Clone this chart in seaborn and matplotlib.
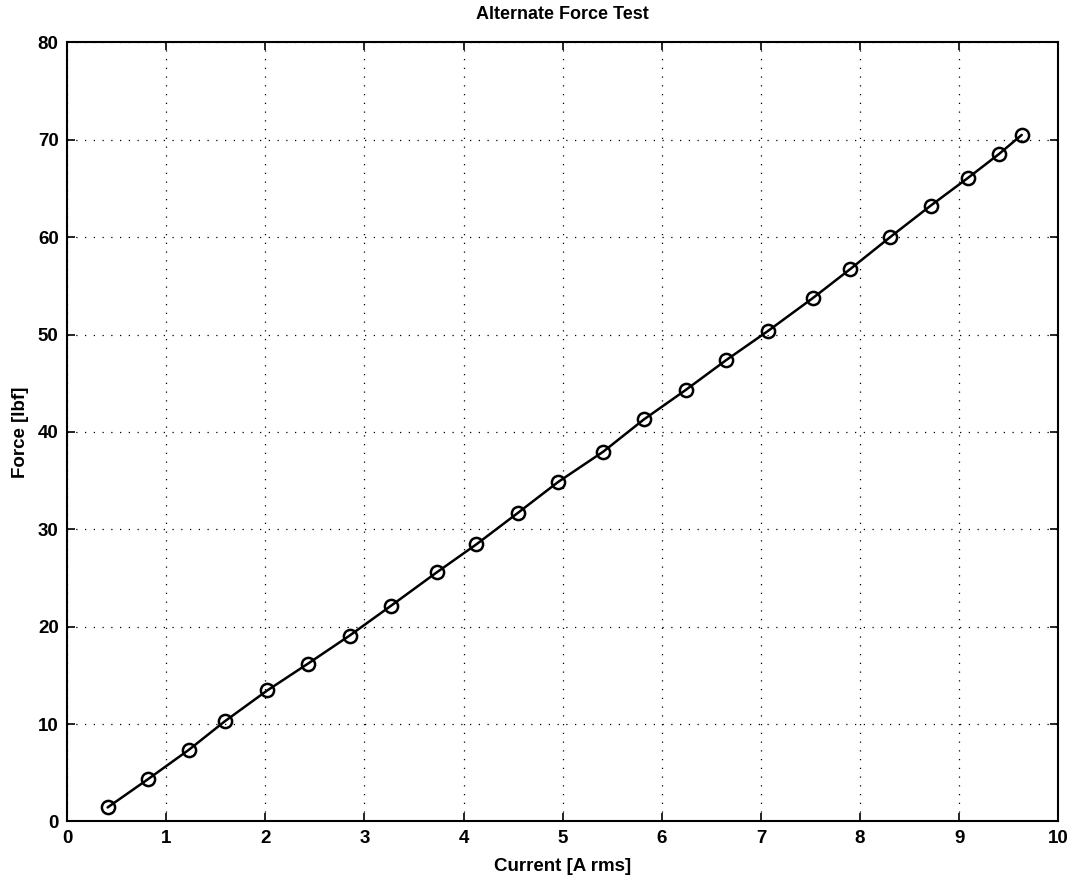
import matplotlib
matplotlib.use("Agg")
import matplotlib.pyplot as plt
import seaborn as sns
import pandas as pd

current = [0.41, 0.82, 1.23, 1.59, 2.02, 2.43, 2.85, 3.27, 3.73, 4.13, 4.55, 4.95,
           5.41, 5.82, 6.24, 6.65, 7.07, 7.52, 7.90, 8.30, 8.71, 9.09, 9.40, 9.63]
force = [1.44, 4.36, 7.36, 10.27, 13.45, 16.2, 19.08, 22.16, 25.58, 28.46, 31.7, 34.83,
         37.98, 41.29, 44.3, 47.38, 50.36, 53.72, 56.72, 59.98, 63.22, 66.1, 68.53, 70.5]
x_ticks = list(range(0, 11))
y_ticks = list(range(0, 81, 10))

sns.set_theme(style="white")
plt.rcParams['font.family'] = ['Liberation Sans', 'DejaVu Sans']
plt.rcParams['font.weight'] = 'bold'
plt.rcParams['text.color'] = 'black'
plt.rcParams['axes.labelcolor'] = 'black'
plt.rcParams['xtick.color'] = 'black'
plt.rcParams['ytick.color'] = 'black'

df = pd.DataFrame({"Current": current, "Force": force})

fig = plt.figure(figsize=(10.8, 8.83), dpi=100)
ax = fig.add_axes([0.062, 0.0697, 0.918, 0.8823])

sns.lineplot(data=df, x="Current", y="Force", ax=ax, color="black", linewidth=1.8,
             marker="o", markersize=9.5, markerfacecolor="none",
             markeredgecolor="black", markeredgewidth=1.8, sort=False)

ax.set_xlim(0, 10)
ax.set_ylim(0, 80)
ax.set_xticks(x_ticks)
ax.set_yticks(y_ticks)
ax.set_xticklabels([str(v) for v in x_ticks], fontsize=13.5, fontweight='bold')
ax.set_yticklabels([str(v) for v in y_ticks], fontsize=13.5, fontweight='bold')
ax.grid(True, linestyle=(0, (1, 6)), color='black', linewidth=0.9)
ax.tick_params(direction='in', length=6, width=1.2, top=True, right=True,
               bottom=True, left=True, pad=6, colors='black')
for s in ax.spines.values():
    s.set_visible(True)
    s.set_color('black')
    s.set_linewidth(1.5)

ax.set_title("Alternate Force Test", fontsize=13, fontweight='bold', pad=17, color='black')
ax.set_xlabel("Current [A rms]", fontsize=13.5, fontweight='bold', labelpad=8, color='black')
ax.set_ylabel("Force [lbf]", fontsize=13.5, fontweight='bold', labelpad=6, color='black')

fig.savefig("out.png", dpi=100)
